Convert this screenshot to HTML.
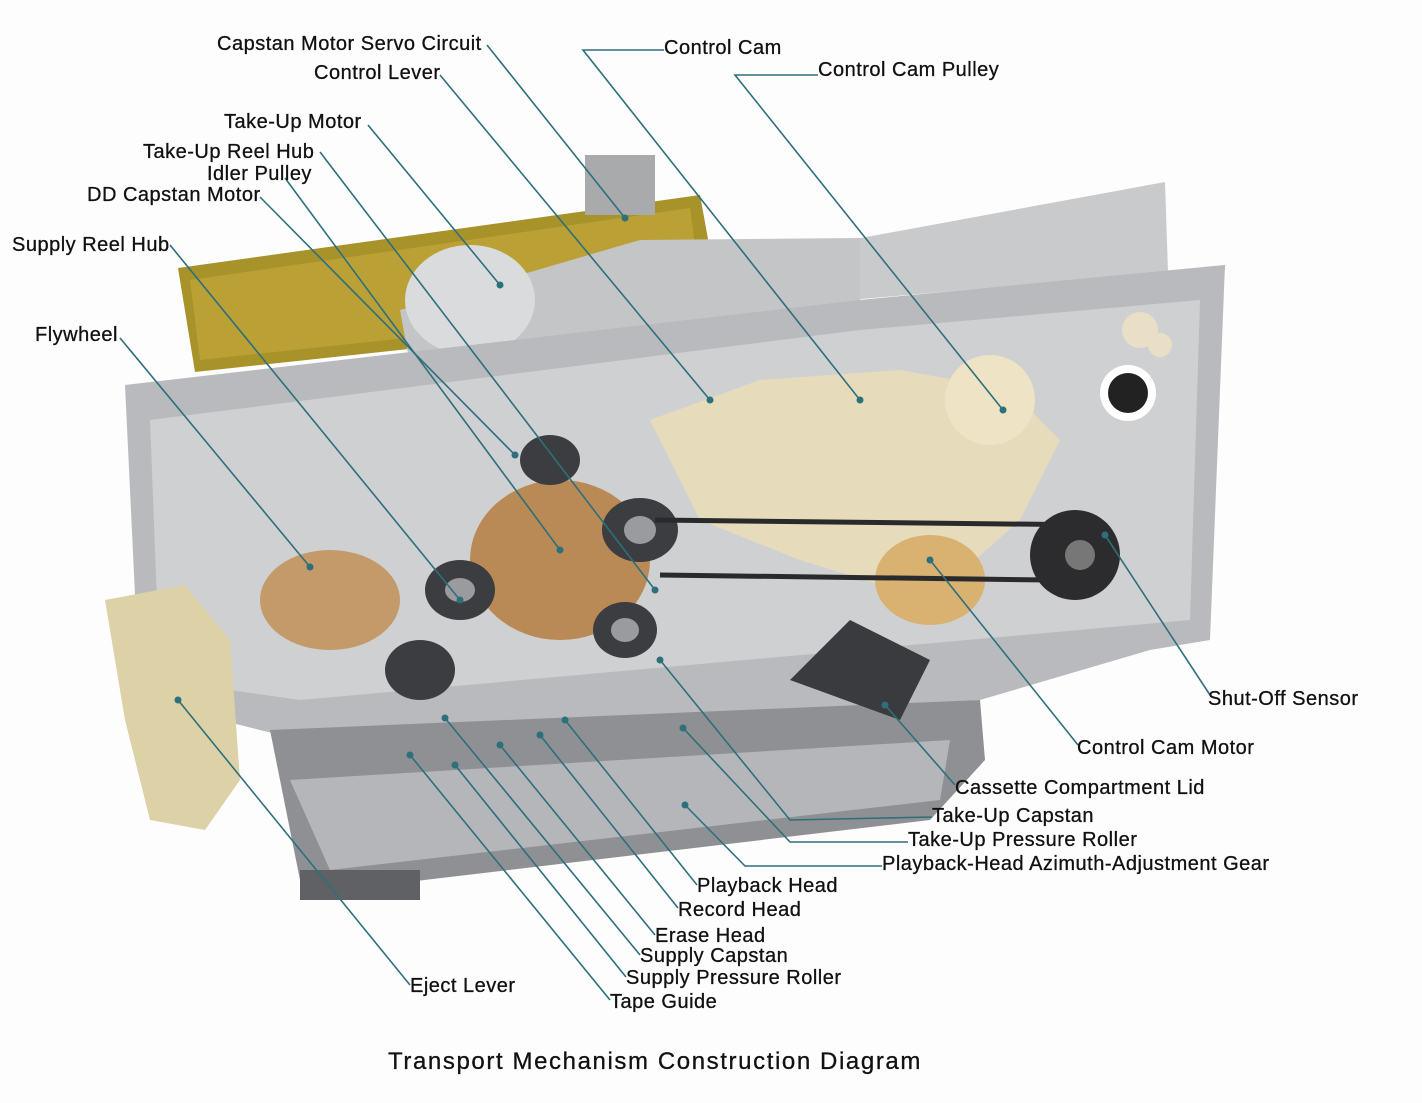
<!DOCTYPE html>
<html><head><meta charset="utf-8"><style>
html,body{margin:0;padding:0;background:#fdfdfd}
svg{display:block}
text{font-family:"Liberation Sans",sans-serif;font-size:20px;letter-spacing:0.5px;fill:#111;stroke:#111;stroke-width:0.3px}
</style></head><body>
<svg width="1422" height="1103" viewBox="0 0 1422 1103">
<rect width="1422" height="1103" fill="#fdfdfd"/>
<polygon points="850,240 1165,182 1168,272 850,300" fill="#c9cacc"/>
<polygon points="178,268 700,195 710,250 600,265 585,330 195,372" fill="#a8922a"/>
<polygon points="190,280 690,208 695,245 590,262 575,320 200,360" fill="#c2a63a" opacity="0.7"/>
<rect x="585" y="155" width="70" height="60" fill="#a9aaac"/>
<polygon points="400,310 640,240 860,238 860,300 1225,265 1215,400 420,420" fill="#c4c5c7"/>
<ellipse cx="470" cy="300" rx="65" ry="55" fill="#dadbdd"/>
<polygon points="125,385 860,300 1225,265 1210,640 1150,650 980,700 300,740 140,700" fill="#b9babd"/>
<polygon points="150,420 860,330 1200,300 1190,620 300,700 160,680" fill="#cfd0d2"/>
<polygon points="650,420 760,380 900,370 1010,390 1060,440 1020,520 930,600 800,560 700,520" fill="#e6dcbc"/>
<circle cx="990" cy="400" r="45" fill="#eee3c4"/>
<circle cx="1140" cy="330" r="18" fill="#e8dfc6"/><circle cx="1160" cy="345" r="12" fill="#e8dfc6"/>
<circle cx="1128" cy="393" r="28" fill="#fff"/><circle cx="1128" cy="393" r="20" fill="#222"/>
<ellipse cx="560" cy="560" rx="90" ry="80" fill="#b98a55"/>
<ellipse cx="330" cy="600" rx="70" ry="50" fill="#c49a6a"/>
<ellipse cx="930" cy="580" rx="55" ry="45" fill="#d9b170"/>
<g fill="#3c3d40">
<ellipse cx="640" cy="530" rx="38" ry="32"/><ellipse cx="460" cy="590" rx="35" ry="30"/>
<ellipse cx="625" cy="630" rx="32" ry="28"/><ellipse cx="420" cy="670" rx="35" ry="30"/>
<ellipse cx="550" cy="460" rx="30" ry="25"/>
</g>
<g fill="#9a9b9e"><ellipse cx="640" cy="530" rx="16" ry="14"/><ellipse cx="460" cy="590" rx="15" ry="12"/><ellipse cx="625" cy="630" rx="14" ry="12"/></g>
<path d="M655,520 L1100,525 M660,575 L1050,580" stroke="#2a2a2c" stroke-width="5" fill="none"/>
<circle cx="1075" cy="555" r="45" fill="#2c2c2e"/><circle cx="1080" cy="555" r="15" fill="#777"/>
<polygon points="105,600 185,585 230,640 240,780 205,830 150,820 125,720" fill="#ddd1a8"/>
<polygon points="270,730 980,700 985,760 930,820 340,890 300,880" fill="#8f9093"/>
<polygon points="290,780 950,740 940,800 330,870" fill="#b5b6b9"/>
<polygon points="790,680 850,620 930,660 900,720" fill="#3a3b3e"/>
<rect x="300" y="870" width="120" height="30" fill="#606164"/>
<g stroke="#2e6f7c" stroke-width="1.6" fill="none">
<path d="M487,45 L625,218"/>
<path d="M664,50 L583,50 L860,400"/>
<path d="M818,75 L735,75 L1003,410"/>
<path d="M440,75 L710,400"/>
<path d="M368,125 L500,285"/>
<path d="M320,152 L655,590"/>
<path d="M285,178 L560,550"/>
<path d="M260,197 L515,455"/>
<path d="M170,245 L460,600"/>
<path d="M120,338 L310,567"/>
<path d="M1210,695 L1105,535"/>
<path d="M1078,745 L930,560"/>
<path d="M955,785 L885,705"/>
<path d="M932,817 L790,820 L660,660"/>
<path d="M908,842 L790,842 L683,728"/>
<path d="M882,866 L745,866 L685,805"/>
<path d="M697,885 L565,720"/>
<path d="M678,908 L540,735"/>
<path d="M655,935 L500,745"/>
<path d="M640,955 L445,718"/>
<path d="M626,977 L455,765"/>
<path d="M610,1000 L410,755"/>
<path d="M410,985 L178,700"/>
</g>
<g fill="#2e6f7c">
<circle cx="625" cy="218" r="3.5"/><circle cx="860" cy="400" r="3.5"/><circle cx="1003" cy="410" r="3.5"/>
<circle cx="710" cy="400" r="3.5"/><circle cx="500" cy="285" r="3.5"/><circle cx="655" cy="590" r="3.5"/>
<circle cx="560" cy="550" r="3.5"/><circle cx="515" cy="455" r="3.5"/><circle cx="460" cy="600" r="3.5"/>
<circle cx="310" cy="567" r="3.5"/><circle cx="1105" cy="535" r="3.5"/><circle cx="930" cy="560" r="3.5"/>
<circle cx="885" cy="705" r="3.5"/><circle cx="660" cy="660" r="3.5"/><circle cx="683" cy="728" r="3.5"/>
<circle cx="685" cy="805" r="3.5"/><circle cx="565" cy="720" r="3.5"/><circle cx="540" cy="735" r="3.5"/>
<circle cx="500" cy="745" r="3.5"/><circle cx="445" cy="718" r="3.5"/><circle cx="455" cy="765" r="3.5"/>
<circle cx="410" cy="755" r="3.5"/><circle cx="178" cy="700" r="3.5"/>
</g>
<text x="217" y="50">Capstan Motor Servo Circuit</text>
<text x="664" y="54">Control Cam</text>
<text x="818" y="76">Control Cam Pulley</text>
<text x="314" y="79">Control Lever</text>
<text x="224" y="128">Take-Up Motor</text>
<text x="143" y="158">Take-Up Reel Hub</text>
<text x="207" y="180">Idler Pulley</text>
<text x="87" y="201">DD Capstan Motor</text>
<text x="12" y="251">Supply Reel Hub</text>
<text x="35" y="341">Flywheel</text>
<text x="1208" y="705">Shut-Off Sensor</text>
<text x="1077" y="754">Control Cam Motor</text>
<text x="955" y="794">Cassette Compartment Lid</text>
<text x="932" y="822">Take-Up Capstan</text>
<text x="908" y="846">Take-Up Pressure Roller</text>
<text x="882" y="870">Playback-Head Azimuth-Adjustment Gear</text>
<text x="697" y="892">Playback Head</text>
<text x="678" y="916">Record Head</text>
<text x="655" y="942">Erase Head</text>
<text x="640" y="962">Supply Capstan</text>
<text x="626" y="984">Supply Pressure Roller</text>
<text x="610" y="1008">Tape Guide</text>
<text x="410" y="992">Eject Lever</text>
<text x="388" y="1069" style="font-size:24px;letter-spacing:1.6px">Transport Mechanism Construction Diagram</text>
</svg>
</body></html>
